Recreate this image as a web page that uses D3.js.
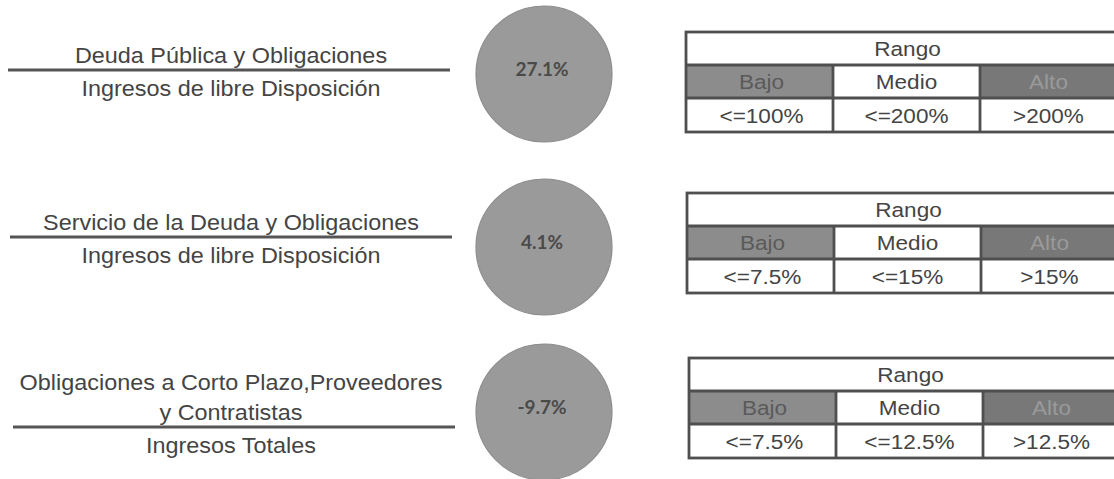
<!DOCTYPE html>
<html>
<head>
<meta charset="utf-8">
<script src="https://cdn.jsdelivr.net/npm/d3@7"></script>
<style>
  html, body { margin: 0; padding: 0; background: #fff; }
  svg { display: block; }
</style>
</head>
<body>
<svg id="chart" width="1114" height="479"></svg>
<script>
// ---- data ----
const indicators = ["deuda", "servicio", "corto"];
const numerators = [
  ["Deuda Pública y Obligaciones"],
  ["Servicio de la Deuda y Obligaciones"],
  ["Obligaciones a Corto Plazo,Proveedores", "y Contratistas"]
];
const denominators = [
  "Ingresos de libre Disposición",
  "Ingresos de libre Disposición",
  "Ingresos Totales"
];
const values = [27.1, 4.1, -9.7];
const rangeTitle = "Rango";
const rangeLevels = ["Bajo", "Medio", "Alto"];
const thresholds = [
  ["<=100%", "<=200%", ">200%"],
  ["<=7.5%", "<=15%", ">15%"],
  ["<=7.5%", "<=12.5%", ">12.5%"]
];

// ---- layout ----
const svg = d3.select("#chart");

const circleY = d3.scaleOrdinal().domain(indicators).range([74, 247, 412]);
const lineY = d3.scaleOrdinal().domain(indicators).range([70, 237, 427]);
const lineX0 = d3.scaleOrdinal().domain(indicators).range([8, 10, 13]);
const lineX1 = d3.scaleOrdinal().domain(indicators).range([450, 452, 455]);
const tableTop = d3.scaleOrdinal().domain(indicators).range([32, 193, 358]);
const tableLeft = d3.scaleOrdinal().domain(indicators).range([686, 687, 689]);
const tableRowH = [33, 33, 34];

const labelCX = 231;
const circleCX = 544, circleR = 68;
const colW = 147;
const colScale = d3.scaleBand().domain(rangeLevels).range([0, colW * 3]).padding(0);

const textColor = "#444";
const labelFont = "'Liberation Sans', Arial, sans-serif";

function stretch(sel, factor) {
  sel.each(function () {
    const len = this.getComputedTextLength();
    d3.select(this).attr("textLength", len * factor).attr("lengthAdjust", "spacingAndGlyphs");
  });
}

const rows = svg.selectAll("g.row")
  .data(indicators.map((id, i) => ({ id, i })))
  .join("g").attr("class", "row");

rows.each(function (d) {
  const g = d3.select(this);
  const ly = lineY(d.id);
  const num = numerators[d.i];
  const lineGap = 30;
  num.forEach((t, k) => {
    const baseline = ly - 7 - (num.length - 1 - k) * lineGap;
    g.append("text")
      .attr("x", labelCX).attr("y", baseline)
      .attr("text-anchor", "middle")
      .attr("font-family", labelFont).attr("font-size", 22.5)
      .attr("fill", textColor)
      .text(t)
      .call(stretch, 1.04);
  });
  g.append("line")
    .attr("x1", lineX0(d.id)).attr("x2", lineX1(d.id))
    .attr("y1", ly).attr("y2", ly)
    .attr("stroke", "#555").attr("stroke-width", 3);
  g.append("text")
    .attr("x", labelCX).attr("y", ly + 26)
    .attr("text-anchor", "middle")
    .attr("font-family", labelFont).attr("font-size", 22.5)
    .attr("fill", textColor)
    .text(denominators[d.i])
    .call(stretch, 1.04);

  // circle
  const cy = circleY(d.id);
  g.append("circle")
    .attr("cx", circleCX).attr("cy", cy).attr("r", circleR)
    .attr("fill", "#9a9a9a").attr("stroke", "#8c8c8c").attr("stroke-width", 1.2);
  g.append("text")
    .attr("x", circleCX - 2).attr("y", cy + 2)
    .attr("text-anchor", "middle")
    .attr("font-family", "Lato, 'Open Sans', sans-serif")
    .attr("font-weight", 700).attr("font-size", 19)
    .attr("fill", "#4a4a4a")
    .text(values[d.i].toFixed(1) + "%");

  // range table
  const tx = tableLeft(d.id), ty = tableTop(d.id);
  const r1 = ty + tableRowH[0], r2 = r1 + tableRowH[1], r3 = r2 + tableRowH[2];
  const tw = colW * 3;
  const tg = g.append("g").attr("transform", `translate(${tx},0)`);
  tg.append("rect").attr("x", 0).attr("y", ty).attr("width", tw).attr("height", r3 - ty).attr("fill", "#fff");
  const fills = { Bajo: "#8c8c8c", Medio: "#ffffff", Alto: "#787878" };
  const txtFill = { Bajo: "#5a5a5a", Medio: "#444444", Alto: "#9a9a9a" };
  const shift = { Bajo: 2, Medio: 0, Alto: -5 };
  tg.selectAll("rect.lvl").data(rangeLevels).join("rect").attr("class", "lvl")
    .attr("x", l => colScale(l)).attr("y", r1)
    .attr("width", colScale.bandwidth()).attr("height", r2 - r1)
    .attr("fill", l => fills[l]);
  tg.append("text")
    .attr("x", tw / 2 + 1).attr("y", (ty + r1) / 2 + 7)
    .attr("text-anchor", "middle")
    .attr("font-family", labelFont).attr("font-size", 20.5).attr("fill", textColor)
    .text(rangeTitle).call(stretch, 1.1);
  tg.selectAll("text.lvl").data(rangeLevels).join("text").attr("class", "lvl")
    .attr("x", l => colScale(l) + colScale.bandwidth() / 2 + shift[l])
    .attr("y", (r1 + r2) / 2 + 7)
    .attr("text-anchor", "middle")
    .attr("font-family", labelFont).attr("font-size", 20.5)
    .attr("fill", l => txtFill[l])
    .text(l => l).call(stretch, 1.1);
  tg.selectAll("text.thr").data(thresholds[d.i].map((t, k) => ({ t, l: rangeLevels[k] }))).join("text").attr("class", "thr")
    .attr("x", o => colScale(o.l) + colScale.bandwidth() / 2 + shift[o.l])
    .attr("y", (r2 + r3) / 2 + 8)
    .attr("text-anchor", "middle")
    .attr("font-family", labelFont).attr("font-size", 20.5)
    .attr("fill", textColor)
    .text(o => o.t).call(stretch, 1.1);
  // grid lines
  const stroke = "#4f4f4f", sw = 2.8;
  tg.append("rect").attr("x", 0).attr("y", ty).attr("width", tw).attr("height", r3 - ty)
    .attr("fill", "none").attr("stroke", stroke).attr("stroke-width", sw);
  [r1, r2].forEach(y => tg.append("line").attr("x1", 0).attr("x2", tw).attr("y1", y).attr("y2", y)
    .attr("stroke", stroke).attr("stroke-width", sw));
  rangeLevels.slice(1).forEach(l => tg.append("line")
    .attr("x1", colScale(l)).attr("x2", colScale(l)).attr("y1", r1).attr("y2", r3)
    .attr("stroke", stroke).attr("stroke-width", sw));
});
</script>
</body>
</html>
